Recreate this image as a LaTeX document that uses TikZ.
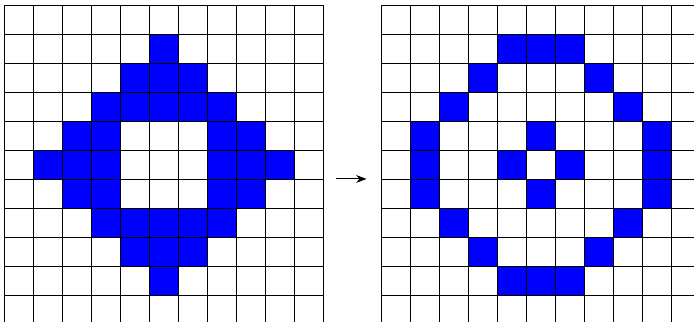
\documentclass[tikz,border=0pt]{standalone}
\usetikzlibrary{arrows.meta}
\tikzset{
  gridline/.style = {black, line width=0.4pt},
  pixel/.style    = {fill=blue, draw=black, line width=0.4pt},
  mapto/.style    = {-{Stealth[length=1.8mm]}, line width=0.5pt},
}

\begin{document}
\begin{tikzpicture}[scale=0.5]
  \useasboundingbox (-0.138,0.069) rectangle (23.79,11.17);
  % filled cells, given as column/row counted from the top left
  \foreach \c/\r in {6/2, 5/3,6/3,7/3, 4/4,5/4,6/4,7/4,8/4,
                     3/5,4/5,8/5,9/5, 2/6,3/6,4/6,8/6,9/6,10/6,
                     3/7,4/7,8/7,9/7, 4/8,5/8,6/8,7/8,8/8,
                     5/9,6/9,7/9, 6/10}
    \draw[pixel] (\c-1,11-\r) rectangle (\c,12-\r);
  \foreach \c/\r in {5/2,6/2,7/2, 4/3,8/3, 3/4,9/4,
                     2/5,6/5,10/5, 2/6,5/6,7/6,10/6, 2/7,6/7,10/7,
                     3/8,9/8, 4/9,8/9, 5/10,6/10,7/10}
    \draw[pixel] (12+\c,11-\r) rectangle (13+\c,12-\r);
  % the two grids
  \draw[gridline] (0,0) grid (11,11);
  \draw[gridline] (13,0) grid (24,11);
  % arrow between them
  \coordinate (src) at (11.45,5);
  \coordinate (dst) at (12.5,5);
  \draw[mapto] (src) -- (dst);
\end{tikzpicture}
\end{document}
